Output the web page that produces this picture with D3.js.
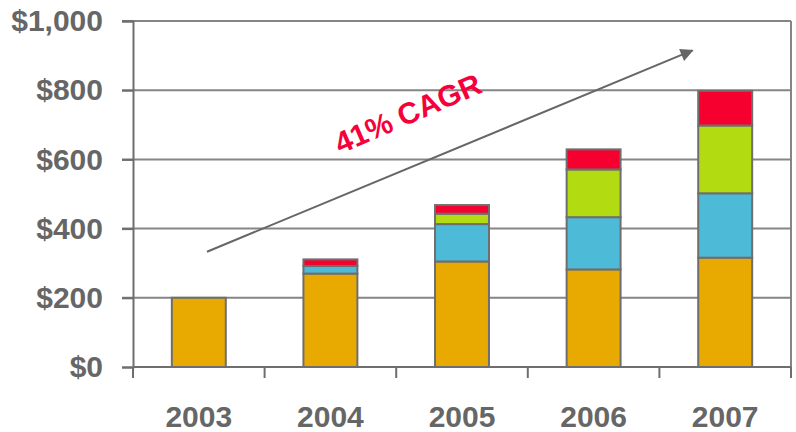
<!DOCTYPE html>
<html>
<head>
<meta charset="utf-8">
<script src="https://cdn.jsdelivr.net/npm/d3@7"></script>
<style>
  html, body { margin: 0; padding: 0; background: #fff; }
  svg { display: block; }
</style>
</head>
<body>
<svg id="chart" width="796" height="432"></svg>
<script>
const years = ["2003", "2004", "2005", "2006", "2007"];
const seriesNames = ["s1", "s2", "s3", "s4"];
const s1 = [200, 270, 305, 282, 316];
const s2 = [0, 22, 108, 151, 186];
const s3 = [0, 0, 30, 138, 196];
const s4 = [0, 19, 25, 58, 100];
const yTicks = [0, 200, 400, 600, 800, 1000];
const cagrLabel = "41% CAGR";
const colors = ["#E8AA00", "#4DBBD8", "#B2DB12", "#F6002F"];

const svg = d3.select("#chart");
const margin = { left: 133, right: 5, top: 21, bottom: 65 };
const W = 796, H = 432;
const x0 = margin.left, x1 = W - margin.right;
const y0 = H - margin.bottom, y1 = margin.top;

const x = d3.scaleBand().domain(years).range([x0, x1]).padding(0);
const y = d3.scaleLinear().domain([0, 1000]).range([y0, y1]);

const gray = "#6e6e6e";
const textGray = "#666666";

// gridlines
svg.append("g").selectAll("line").data(yTicks.filter(d => d > 0)).join("line")
  .attr("x1", x0 - 11).attr("x2", x1)
  .attr("y1", d => y(d)).attr("y2", d => y(d))
  .attr("stroke", "#858585").attr("stroke-width", 2);

// frame right
svg.append("line").attr("x1", x1).attr("x2", x1).attr("y1", y1).attr("y2", y0)
  .attr("stroke", "#858585").attr("stroke-width", 2);

// y axis
const yAxis = d3.axisLeft(y).tickValues(yTicks).tickSize(11)
  .tickFormat(d => "$" + d3.format(",")(d));
const gy = svg.append("g").attr("transform", `translate(${x0},0)`).call(yAxis);
gy.select(".domain").attr("stroke", gray).attr("stroke-width", 2);
gy.selectAll(".tick line").attr("stroke", gray).attr("stroke-width", 2);
gy.selectAll(".tick text")
  .attr("x", -30)
  .attr("fill", textGray)
  .style("font-family", "Liberation Sans, Arial, sans-serif")
  .style("font-weight", "bold")
  .style("font-size", "30px");

// stacked data
const table = years.map((yr, i) => ({ year: yr, s1: s1[i], s2: s2[i], s3: s3[i], s4: s4[i] }));
const stack = d3.stack().keys(seriesNames)(table);

const barFrac = 0.41;
const bw = x.bandwidth() * barFrac;

stack.forEach((layer, li) => {
  svg.append("g").selectAll("rect")
    .data(layer.filter(d => d[1] - d[0] > 0))
    .join("rect")
    .attr("x", d => x(d.data.year) + (x.bandwidth() - bw) / 2)
    .attr("width", bw)
    .attr("y", d => y(d[1]))
    .attr("height", d => y(d[0]) - y(d[1]))
    .attr("fill", colors[li])
    .attr("stroke", gray)
    .attr("stroke-width", 2);
});

// x axis baseline
svg.append("line").attr("x1", x0).attr("x2", x1).attr("y1", y0).attr("y2", y0)
  .attr("stroke", gray).attr("stroke-width", 2);
// x ticks at band boundaries
const bounds = years.map(d => x(d)).concat([x1]);
svg.append("g").selectAll("line").data(bounds).join("line")
  .attr("x1", d => d).attr("x2", d => d)
  .attr("y1", y0).attr("y2", y0 + 11)
  .attr("stroke", gray).attr("stroke-width", 2);
// x labels
svg.append("g").selectAll("text").data(years).join("text")
  .attr("x", d => x(d) + x.bandwidth() / 2)
  .attr("y", 427)
  .attr("text-anchor", "middle")
  .attr("fill", textGray)
  .style("font-family", "Liberation Sans, Arial, sans-serif")
  .style("font-weight", "bold")
  .style("font-size", "30px")
  .text(d => d);

// arrow
const defs = svg.append("defs");
defs.append("marker").attr("id", "arr")
  .attr("viewBox", "0 0 10 10").attr("refX", 9).attr("refY", 5)
  .attr("markerWidth", 8).attr("markerHeight", 6.5)
  .attr("markerUnits", "strokeWidth")
  .attr("orient", "auto")
  .append("path").attr("d", "M0,0 L10,5 L0,10 Z").attr("fill", "#666");

svg.append("line")
  .attr("x1", x(years[0]) + 74).attr("y1", y(333))
  .attr("x2", x(years[4]) + 33).attr("y2", y(915))
  .attr("stroke", "#666").attr("stroke-width", 2)
  .attr("marker-end", "url(#arr)");

// CAGR label
svg.append("text")
  .attr("transform", "translate(412,123) rotate(-23.5)")
  .attr("text-anchor", "middle")
  .attr("fill", "#F5003A")
  .style("font-family", "Liberation Sans, Arial, sans-serif")
  .style("font-weight", "bold")
  .style("font-size", "30px")
  .text(cagrLabel);
</script>
</body>
</html>
